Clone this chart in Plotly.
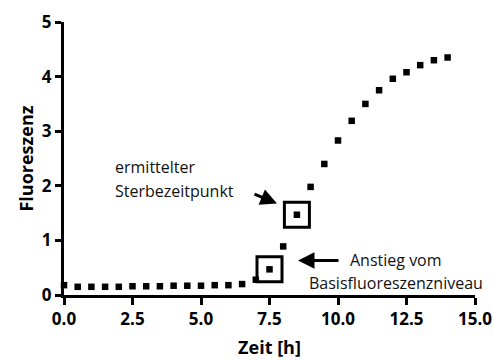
import plotly.graph_objects as go

# Data
zeit = [0.0, 0.5, 1.0, 1.5, 2.0, 2.5, 3.0, 3.5, 4.0, 4.5, 5.0, 5.5, 6.0, 6.5,
        7.0, 7.5, 8.0, 8.5, 9.0, 9.5, 10.0, 10.5, 11.0, 11.5, 12.0, 12.5,
        13.0, 13.5, 14.0]
fluoreszenz = [0.18, 0.15, 0.15, 0.15, 0.15, 0.16, 0.16, 0.16, 0.17, 0.17,
               0.17, 0.18, 0.18, 0.20, 0.28, 0.47, 0.89, 1.47, 1.98, 2.40,
               2.83, 3.19, 3.50, 3.75, 3.96, 4.08, 4.21, 4.30, 4.35]
markiert_zeit = [7.5, 8.5]
markiert_wert = [0.47, 1.47]

x_ticks = [0.0, 2.5, 5.0, 7.5, 10.0, 12.5, 15.0]
x_ticklabels = ["0.0", "2.5", "5.0", "7.5", "10.0", "12.5", "15.0"]
y_ticks = [0, 1, 2, 3, 4, 5]
y_ticklabels = ["0", "1", "2", "3", "4", "5"]

W, H = 493, 361
ML, MR, MT, MB = 64, 18, 22, 66
XR = (0, 15)
YR = (0, 5)

def px2x(px):
    return XR[0] + (px - ML) / (W - ML - MR) * (XR[1] - XR[0])

def py2y(py):
    return YR[0] + (H - MB - py) / (H - MT - MB) * (YR[1] - YR[0])

FONT = "Open Sans"

fig = go.Figure()
fig.add_trace(go.Scatter(
    x=zeit, y=fluoreszenz, mode="markers",
    marker=dict(symbol="square", size=6.5, color="black"),
    cliponaxis=False, showlegend=False))
fig.add_trace(go.Scatter(
    x=markiert_zeit, y=markiert_wert, mode="markers",
    marker=dict(symbol="square-open", size=25, color="black",
                line=dict(width=3, color="black")),
    cliponaxis=False, showlegend=False))

annotations = []
# arrows
annotations.append(dict(x=px2x(277), y=py2y(203.5), xref="x", yref="y",
                        ax=-24, ay=-10, text="", showarrow=True,
                        arrowhead=2, arrowsize=1.1, arrowwidth=3, arrowcolor="black"))
annotations.append(dict(x=px2x(298), y=py2y(260.5), xref="x", yref="y",
                        ax=42, ay=0, text="", showarrow=True,
                        arrowhead=2, arrowsize=1.1, arrowwidth=3, arrowcolor="black"))
# texts
txt_font = dict(family=FONT, size=16, color="#111111")
annotations.append(dict(x=px2x(113), y=py2y(167), xref="x", yref="y",
                        text="ermittelter", showarrow=False, xanchor="left",
                        yanchor="middle", font=txt_font))
annotations.append(dict(x=px2x(113), y=py2y(191), xref="x", yref="y",
                        text="Sterbezeitpunkt", showarrow=False, xanchor="left",
                        yanchor="middle", font=txt_font))
annotations.append(dict(x=px2x(396), y=py2y(260), xref="x", yref="y",
                        text="Anstieg vom", showarrow=False, xanchor="center",
                        yanchor="middle", font=txt_font))
annotations.append(dict(x=px2x(396), y=py2y(283), xref="x", yref="y",
                        text="Basisfluoreszenzniveau", showarrow=False,
                        xanchor="center", yanchor="middle", font=txt_font))

tick_font = dict(family=FONT, size=17, color="black", weight="bold")

fig.update_layout(
    width=W, height=H,
    margin=dict(l=ML, r=MR, t=MT, b=MB, pad=0),
    paper_bgcolor="white", plot_bgcolor="white",
    font=dict(family=FONT, color="black"),
    annotations=annotations,
    xaxis=dict(range=list(XR), tickvals=x_ticks,
               ticktext=["<b>%s</b>" % t for t in x_ticklabels],
               showgrid=False, zeroline=False, showline=True, linecolor="black",
               linewidth=3, ticks="outside", ticklen=7, tickwidth=3,
               tickcolor="black", automargin=False,
               tickfont=tick_font,
               title=dict(text="Zeit [h]", standoff=12,
                          font=dict(family=FONT, size=18, color="black",
                                    weight="bold"))),
    yaxis=dict(range=list(YR), tickvals=y_ticks,
               ticktext=["<b>%s</b>" % t for t in y_ticklabels],
               showgrid=False, zeroline=False, showline=True, linecolor="black",
               linewidth=3, ticks="outside", ticklen=6, tickwidth=3,
               tickcolor="black", automargin=False,
               tickfont=tick_font,
               title=dict(text="Fluoreszenz", standoff=4,
                          font=dict(family=FONT, size=18, color="black",
                                    weight="bold"))),
)

fig.write_html("out.html")
